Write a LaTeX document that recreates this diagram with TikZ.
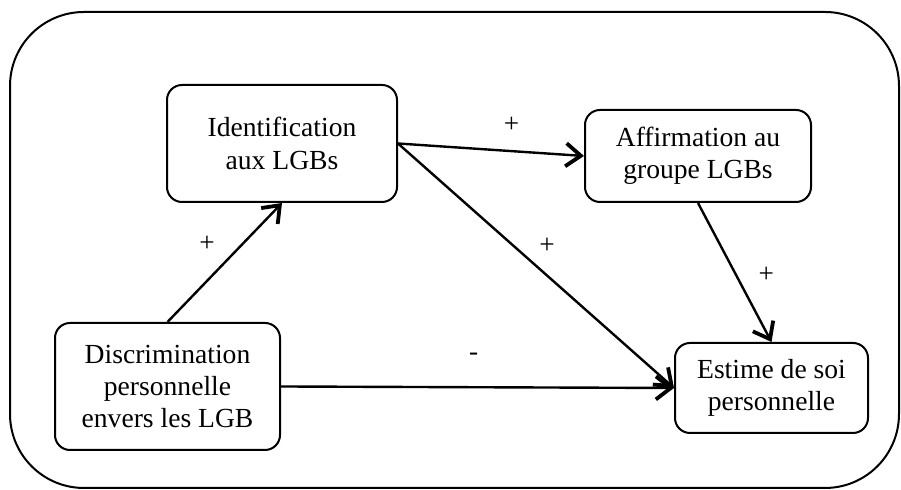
\documentclass[tikz,border=0pt]{standalone}
\usepackage{fontspec}
\setmainfont{Liberation Serif}
\usepackage{tikz}
\usetikzlibrary{arrows.meta, calc}

\begin{document}
\begin{tikzpicture}
    [x=0.5pt, y=0.5pt,
     Box var/.style={draw, line width=1pt, rounded corners=7.5pt, align=center,
        font=\fontsize{13.8}{16.2}\selectfont, inner sep=0pt},
     Arrow eff/.style={-{Straight Barb[length=7.5pt, width=11.5pt, line width=1.9pt]},
        line width=1.2pt, color=black},
     Sign/.style={font=\fontsize{13.6}{15}\selectfont, inner sep=0pt}
    ]
\useasboundingbox (0,0) rectangle (901,490);
%outer frame
\draw[line width=1pt, rounded corners=37pt] (10,2) rectangle (899,478);

%the four variables
\node[Box var, minimum width=115pt, minimum height=58.5pt] (ident) at (282,346.5)
    {Identification\\aux LGBs};
\node[Box var, minimum width=113pt, minimum height=46pt] (affirm) at (698,334)
    {Affirmation au\\groupe LGBs};
\node[Box var, minimum width=112.5pt, minimum height=63.5pt] (discr) at (167.5,103.5)
    {Discrimination\\personnelle\\envers les LGB};
\node[Box var, minimum width=96.5pt, minimum height=45pt] (estime) at (771.5,102)
    {Estime de soi\\personnelle};

\draw[Arrow eff]  (discr.north) -- node[Sign, pos=.66, xshift=-18pt] (s1) {+} (ident.south);
\draw[Arrow eff]  (ident.east) -- node[Sign, pos=.61, yshift=13pt] (s2) {+} (affirm.west);
\draw[Arrow eff]  (ident.east) -- node[Sign, pos=.54, yshift=15pt] (s3) {+} (estime.west);
\draw[Arrow eff]  (affirm.south) -- node[Sign, pos=.52, xshift=15pt] (s4) {+} (estime.north);
\draw[Arrow eff]  (discr.east) -- node[Sign, pos=.49, yshift=15pt] (s5) {-} (estime.west);

\end{tikzpicture}
\end{document}
